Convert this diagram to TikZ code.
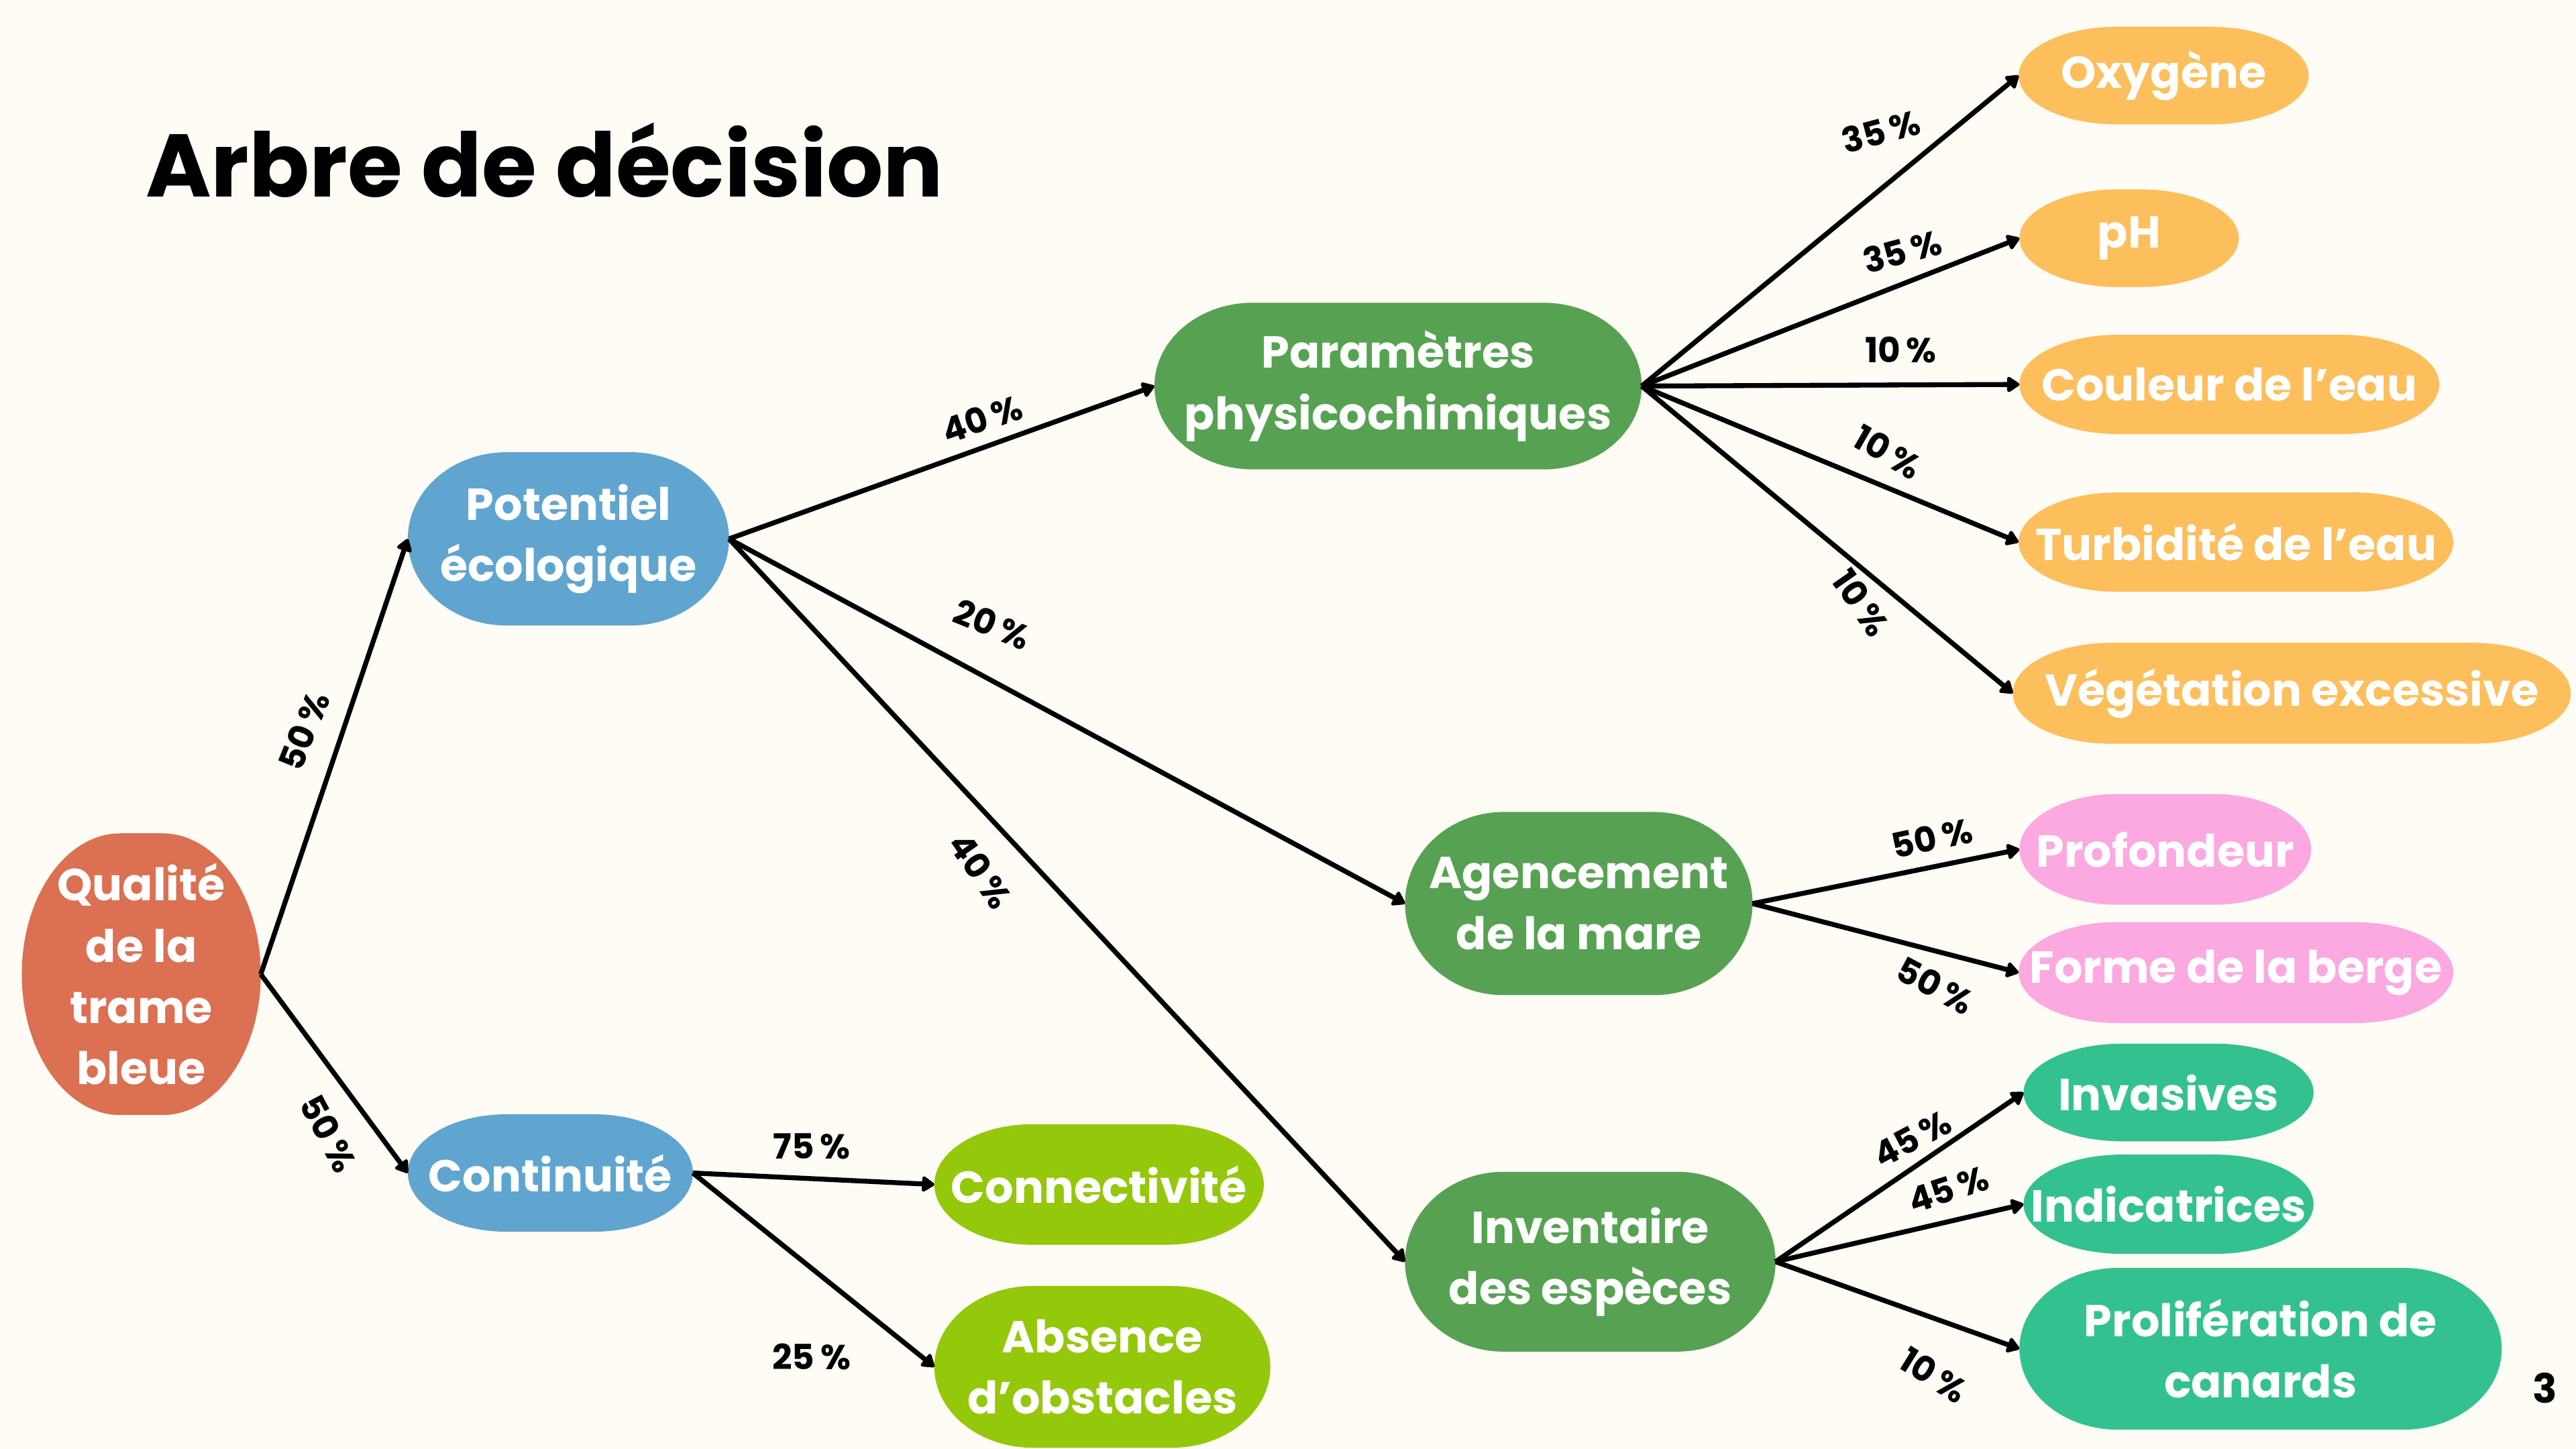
\documentclass[tikz,border=0pt]{standalone}
\usepackage{fontspec}
\setmainfont{Poppins}
\usepackage{tikz}
\usetikzlibrary{calc,backgrounds,arrows.meta}
\definecolor{bg}{HTML}{FFFBF5}
\definecolor{qual}{HTML}{DC7052}
\definecolor{bleu}{HTML}{5FA5D0}
\definecolor{vert}{HTML}{56A252}
\definecolor{lime}{HTML}{94C80B}
\definecolor{oran}{HTML}{FDBE5C}
\definecolor{rose}{HTML}{FCA8E1}
\definecolor{teal}{HTML}{33C28F}
\tikzstyle{box}=[text=white, font=\bfseries\fontsize{7.75}{10.6}\selectfont, align=center, inner sep=0pt]
\tikzstyle{lbl}=[font=\bfseries\fontsize{6}{7}\selectfont, inner sep=0pt]
\tikzstyle{arr}=[-{Triangle[round,length=2.4pt,width=3pt]}, line width=0.85pt]
\tikzset{sz/.style 2 args={minimum width=#1cm, minimum height=#2cm}}
\newcommand{\blob}[2]{\fill[#2] let \p1=(#1.north west), \p2=(#1.south east) in
  (\x1+0.6cm,\y1) -- (\x2-0.6cm,\y1) arc[start angle=90, end angle=-90, x radius=0.6cm, y radius={(\y1-\y2)/2}]
  -- (\x1+0.6cm,\y2) arc[start angle=270, end angle=90, x radius=0.6cm, y radius={(\y1-\y2)/2}] -- cycle;}

\begin{document}
\begin{tikzpicture}[x=0.01cm, y=-0.01cm]
\useasboundingbox (0,0) rectangle (1568,882);
\node[anchor=base west, inner sep=0pt, font=\bfseries\fontsize{15.4}{18}\selectfont] (title) at (88,120) {Arbre de décision};
\node[font=\bfseries\fontsize{7}{8}\selectfont] (pg) at (1549,845) {3};

\node[box, sz={1.44}{1.70}] (q) at (86,593) {Qualité\\de la\\trame\\bleue};
\node[box, sz={1.94}{1.04}] (pe) at (346,328) {Potentiel\\écologique};
\node[box, sz={1.72}{0.70}] (co) at (335,714) {Continuité};
\node[box, sz={2.95}{1.00}] (pc) at (851,235) {Paramètres\\physicochimiques};
\node[box, sz={2.10}{1.10}] (am) at (961,550) {Agencement\\de la mare};
\node[box, sz={2.24}{1.08}] (ie) at (968,768) {Inventaire\\des espèces};
\node[box, sz={1.99}{0.72}] (cn) at (669,721) {Connectivité};
\node[box, sz={2.03}{0.97}] (ab) at (671,832) {Absence\\d’obstacles};
\node[box, sz={1.75}{0.58}] (ox) at (1317,46) {Oxygène};
\node[box, sz={1.32}{0.58}] (ph) at (1296,145) {pH};
\node[box, sz={2.54}{0.59}] (ce) at (1357,234) {Couleur de l’eau};
\node[box, sz={2.63}{0.59}] (tu) at (1361,330) {Turbidité de l’eau};
\node[box, sz={3.38}{0.60}] (ve) at (1395,422) {Végétation excessive};
\node[box, sz={1.76}{0.66}] (pr) at (1318,517) {Profondeur};
\node[box, sz={2.63}{0.60}] (fb) at (1361,592) {Forme de la berge};
\node[box, sz={1.75}{0.58}] (inv) at (1320,665) {Invasives};
\node[box, sz={1.75}{0.59}] (id) at (1320,733) {Indicatrices};
\node[box, sz={2.92}{0.97}] (pca) at (1376,821) {Prolifération de\\canards};

\begin{scope}[on background layer]
\fill[bg] (0,0) rectangle (1568,882);
\blob{q}{qual}
\foreach \k in {pe,co} {\blob{\k}{bleu}}
\foreach \k in {pc,am,ie} {\blob{\k}{vert}}
\foreach \k in {cn,ab} {\blob{\k}{lime}}
\foreach \k in {ox,ph,ce,tu,ve} {\blob{\k}{oran}}
\foreach \k in {pr,fb} {\blob{\k}{rose}}
\foreach \k in {inv,id,pca} {\blob{\k}{teal}}
\end{scope}

\foreach \a/\b/\t/\r/\x/\y in {q/pe/50/68/185/445, q/co/50/-62/200/690,
  pe/pc/40/19/598/255, pe/am/20/-22/604/380, pe/ie/40/-55/597/530,
  co/cn/75/0/494/698, co/ab/25/0/494/826,
  pc/ox/35/15/1145/80, pc/ph/35/15/1158/153, pc/ce/10/0/1157/213,
  pc/tu/10/-30/1149/275, pc/ve/10/-55/1133/367,
  am/pr/50/12/1176/510, am/fb/50/-28/1178/600,
  ie/inv/45/28/1164/693, ie/id/45/18/1186/724, ie/pca/10/-32/1177/837} {
	\draw[arr] (\a.east) -- (\b.west);
	\node[lbl, rotate=\r] (l\a\b) at (\x,\y) {\t\,\%};
}
\end{tikzpicture}
\end{document}
